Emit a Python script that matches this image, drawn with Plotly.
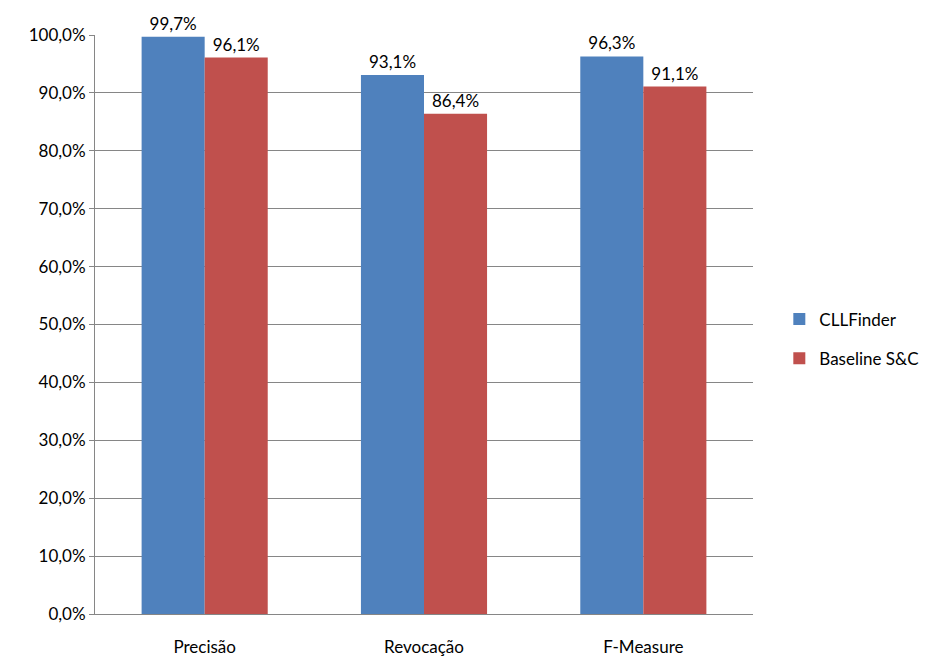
import plotly.graph_objects as go

categories = ["Precisão", "Revocação", "F-Measure"]
cllfinder = [0.997, 0.931, 0.963]
baseline = [0.961, 0.864, 0.911]
series_names = ["CLLFinder", "Baseline S&C"]
tick_vals = [i / 10 for i in range(11)]

fig = go.Figure()
fig.add_trace(go.Bar(x=categories, y=cllfinder, name=series_names[0],
                     marker=dict(color="#4F81BD", line=dict(width=0)),
                     texttemplate="%{y:.1%}", textposition="outside",
                     textfont=dict(size=17, color="#000000"), cliponaxis=False,
                     legendgroup="a"))
fig.add_trace(go.Bar(x=categories, y=baseline, name=series_names[1],
                     marker=dict(color="#C0504D", line=dict(width=0)),
                     texttemplate="%{y:.1%}", textposition="outside",
                     textfont=dict(size=17, color="#000000"), cliponaxis=False,
                     legendgroup="b"))

fig.update_layout(
    width=938, height=660,
    margin=dict(l=95, r=185, t=35, b=46, autoexpand=False),
    paper_bgcolor="white", plot_bgcolor="white",
    font=dict(family="Lato, Carlito, sans-serif", size=17, color="#000000"),
    separators=", ",
    barmode="group", bargap=0.425, bargroupgap=0,
    showlegend=True,
    legend=dict(x=1.04, y=0.475, xanchor="left", yanchor="middle",
                font=dict(size=17), tracegroupgap=14, traceorder="grouped",
                bgcolor="rgba(0,0,0,0)"),
)
fig.update_yaxes(range=[0, 1], tickvals=tick_vals, tickformat=".1%",
                 showgrid=True, gridcolor="#868686", gridwidth=1,
                 showline=True, linecolor="#868686", linewidth=1,
                 ticks="outside", ticklen=5, tickcolor="#868686",
                 zeroline=False, tickfont=dict(size=17))
fig.update_xaxes(showline=True, linecolor="#868686", linewidth=1,
                 ticks="", tickfont=dict(size=17), ticklabelstandoff=18)

fig.write_html("out.html")
